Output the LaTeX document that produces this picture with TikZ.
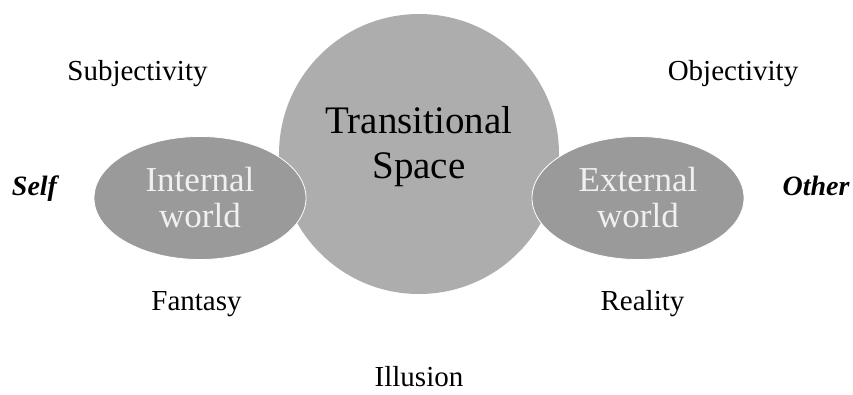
\documentclass[tikz,border=0pt]{standalone}
\usepackage{fontspec}
\setmainfont{Liberation Serif}
\usepackage{xcolor}
\usepackage{tikz}
\usetikzlibrary{shapes}
\definecolor{spacegray}{HTML}{ADADAD}
\definecolor{worldgray}{HTML}{9A9A9A}
\tikzstyle{space}=[circle, fill=spacegray,% the big middle disc
minimum size=280pt, inner sep=0pt]
\tikzstyle{world}=[ellipse, fill=worldgray, draw=white, line width=0.8pt,% the two side worlds
minimum width=212pt, minimum height=123pt, inner sep=0pt,
text=white!94!black, align=center, font=\fontsize{35}{36}\selectfont]
\tikzstyle{pole}=[anchor=base, inner sep=1pt, font=\fontsize{29}{32}\selectfont]
\tikzstyle{side}=[anchor=base, inner sep=1pt, font=\fontsize{28}{32}\selectfont\bfseries\itshape]

\begin{document}
\begin{tikzpicture}[x=1pt, y=-1pt]
\useasboundingbox (0,0) rectangle (853,394);

\node[space] (ts) at (419,154) {};
\node[align=center, font=\fontsize{39}{45}\selectfont] (tstext) at (419,147) {Transitional\\Space};

\node[world] (iw) at (200,198) {Internal\\world};
\node[world] (ew) at (638,198) {External\\world};

\node[pole] (subj) at (137.5,80) {Subjectivity};
\node[pole] (obj) at (733,80) {Objectivity};
\node[side] (self) at (34.5,195) {Self};
\node[side] (other) at (816,195) {Other};
\node[pole] (fant) at (196.5,310) {Fantasy};
\node[pole] (real) at (642.5,310) {Reality};
\node[pole] (ill) at (419,386) {Illusion};

\end{tikzpicture}
\end{document}
